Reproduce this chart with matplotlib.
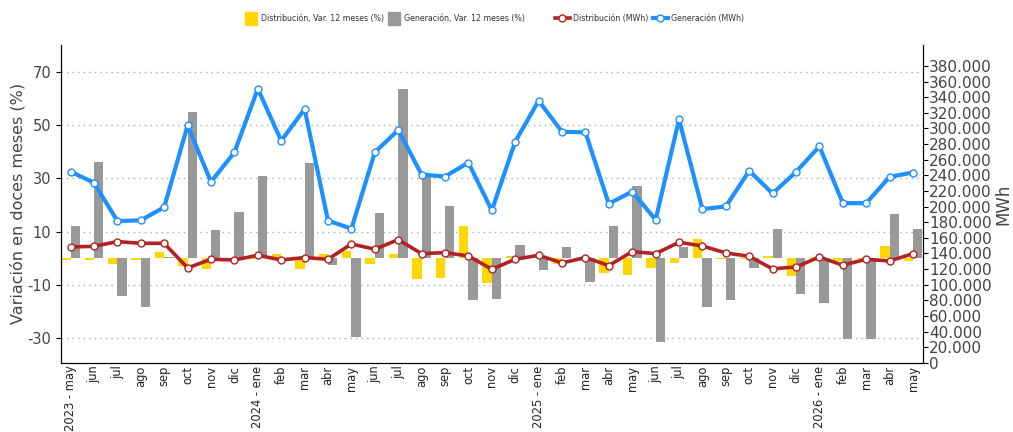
import matplotlib
matplotlib.use('Agg')
import matplotlib.pyplot as plt
import matplotlib.ticker as mtick
from matplotlib.patches import Patch
from matplotlib.lines import Line2D
import numpy as np

plt.rcParams['axes.unicode_minus'] = False

# month labels, may 2023 -> may 2026
months = ['2023 - may', 'jun', 'jul', 'ago', 'sep', 'oct', 'nov', 'dic',
          '2024 - ene', 'feb', 'mar', 'abr', 'may', 'jun', 'jul', 'ago', 'sep', 'oct', 'nov', 'dic',
          '2025 - ene', 'feb', 'mar', 'abr', 'may', 'jun', 'jul', 'ago', 'sep', 'oct', 'nov', 'dic',
          '2026 - ene', 'feb', 'mar', 'abr', 'may']

# 12 month variation (%)
dist_pct = [-0.8, -0.8, -2.1, -0.8, 2.1, -3.0, -4.0, -0.3, -0.5, 1.4, -4.3, 1.6, 2.5, -2.2,
            1.6, -8.0, -7.5, 11.9, -9.4, 0.8, 0.3, -2.1, -0.4, -5.6, -6.3, -3.7, -2.0, 7.0,
            -0.3, -0.3, 0.6, -6.8, 0.3, -1.2, -0.5, 4.7, -1.2]
gen_pct = [12.1, 36.2, -14.3, -18.3, 0.3, 54.9, 10.5, 17.3, 31.1, -0.3, 35.8, -2.5, -29.6, 16.8,
           63.6, 30.5, 19.5, -15.7, -15.6, 5.0, -4.4, 4.1, -9.2, 12.0, 27.3, -31.8, 4.2, -18.3,
           -15.9, -3.7, 11.0, -13.7, -17.1, -30.6, -30.6, 16.5, 11.0]

# energy (MWh)
gen_mwh = [244800, 230400, 181500, 182400, 199300, 303900, 231700, 269500, 350700, 284400,
           324800, 182000, 171800, 269500, 298000, 241000, 238500, 256300, 195100, 283100,
           335400, 295800, 295000, 203600, 219300, 183200, 311500, 196800, 200200, 245700,
           216800, 244400, 277100, 204400, 204400, 238100, 243600]
dist_mwh = [148300, 149200, 155200, 153000, 153000, 121500, 132600, 131700, 137700, 131700,
            134800, 132600, 152200, 145400, 157700, 139800, 141100, 136800, 119900, 132600,
            137700, 127900, 134800, 124600, 142400, 139800, 154300, 149600, 140700, 136400,
            120300, 122800, 135500, 125000, 132600, 130400, 139800]

x = np.arange(len(months))
txt = '#444444'

fig = plt.figure(figsize=(10.13, 4.32), dpi=100)
ax = fig.add_axes([0.060, 0.160, 0.851, 0.736])

ax.bar(x, dist_pct, width=-0.4, align='edge', color='#FFD700', zorder=2)
ax.bar(x, gen_pct, width=0.4, align='edge', color='#999999', zorder=2)
ax.set_ylim(-39.5, 80.3)
ax.set_xlim(-0.42, 36.42)
ax.set_yticks([-30, -10, 10, 30, 50, 70])
ax.yaxis.grid(True, linestyle=(0, (1, 3)), color='#aaaaaa', linewidth=1)
ax.set_axisbelow(True)
ax.set_xticks(x)
ax.set_xticklabels(months, rotation=90, fontsize=8.3, color='#222222')
ax.tick_params(axis='x', length=0, pad=2)
ax.tick_params(axis='y', labelsize=10.5, labelcolor=txt)
ax.set_ylabel('Variación en doces meses (%)', fontsize=11.5, color=txt)
ax.yaxis.set_label_coords(-0.041, 0.5)
ax.spines['top'].set_visible(False)

ax2 = ax.twinx()
ax2.plot(x, gen_mwh, color='#1E90FF', lw=3, marker='o', ms=5, mfc='white', mec='#1E90FF', mew=1, zorder=3)
ax2.plot(x, dist_mwh, color='#B22222', lw=2.6, marker='o', ms=5, mfc='white', mec='#B22222', mew=1, zorder=3)
ax2.set_ylim(0, 406900)
ax2.set_yticks(range(0, 400000, 20000))
ax2.yaxis.set_major_formatter(mtick.FuncFormatter(lambda v, p: '{:,.0f}'.format(v).replace(',', '.')))
ax2.tick_params(axis='y', labelsize=11, labelcolor=txt, pad=1)
ax2.set_ylabel('MWh', fontsize=12, color=txt, labelpad=2)
ax2.spines['top'].set_visible(False)

bar_handles = [Patch(color='#FFD700', label='Distribución, Var. 12 meses (%)'),
               Patch(color='#999999', label='Generación, Var. 12 meses (%)')]
line_handles = [Line2D([], [], color='#B22222', lw=2.6, marker='o', ms=5, mfc='white', mec='#B22222',
                       label='Distribución (MWh)'),
                Line2D([], [], color='#1E90FF', lw=3, marker='o', ms=5, mfc='white', mec='#1E90FF',
                       label='Generación (MWh)')]
leg1 = fig.legend(handles=bar_handles, loc='center', bbox_to_anchor=(0.380, 0.957), ncol=2, frameon=False,
                  fontsize=5.7, handlelength=1.5, handleheight=2.1, columnspacing=0.6, handletextpad=0.5)
leg2 = fig.legend(handles=line_handles, loc='center', bbox_to_anchor=(0.641, 0.957), ncol=2, frameon=False,
                  fontsize=5.7, handlelength=1.9, columnspacing=0.6, handletextpad=0.4)
for lg in (leg1, leg2):
    for t in lg.get_texts():
        t.set_color('#333333')

fig.savefig('out.png', dpi=100)
